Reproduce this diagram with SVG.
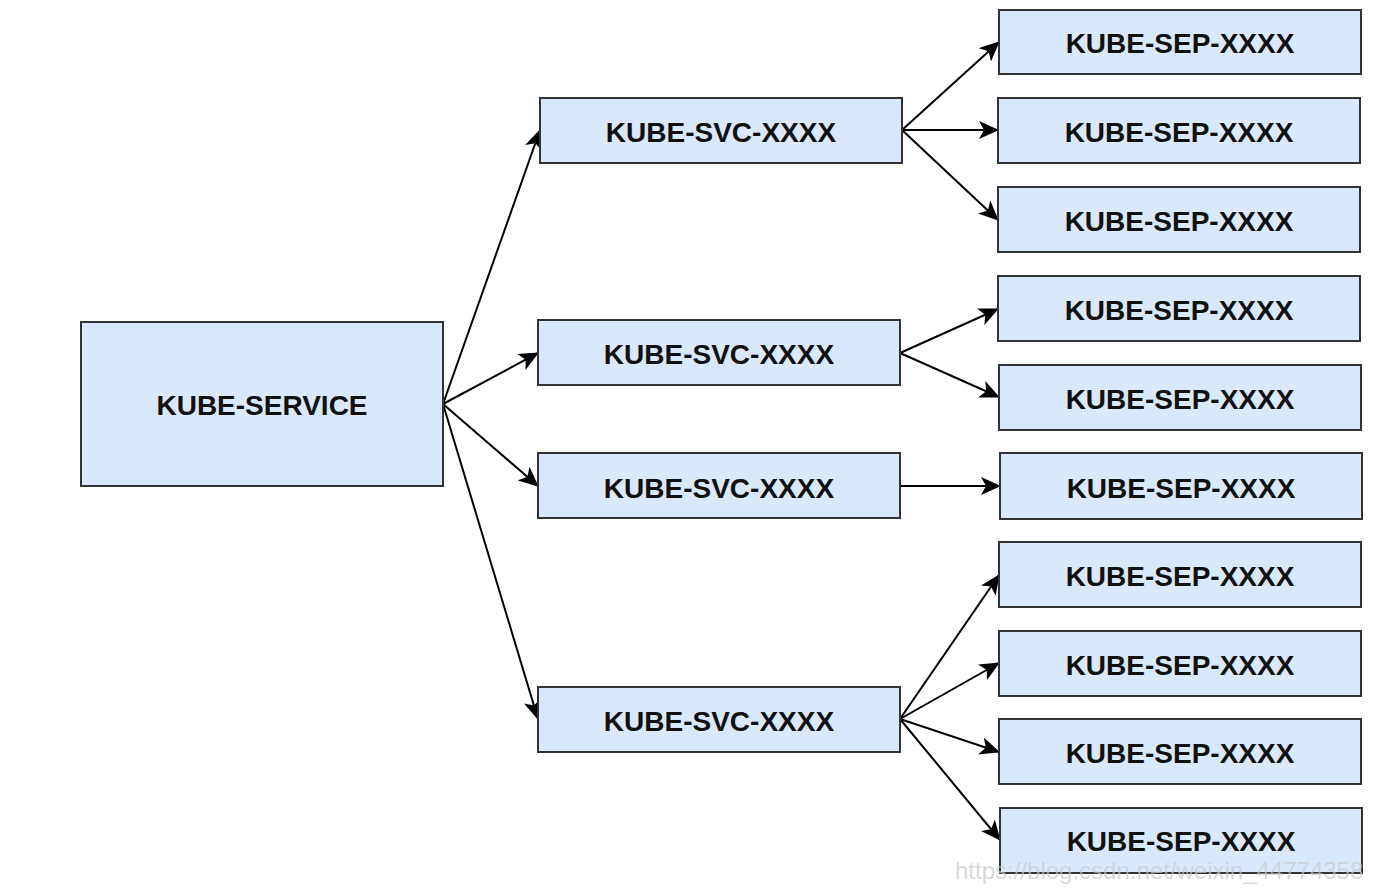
<svg xmlns="http://www.w3.org/2000/svg" width="1396" height="888" viewBox="0 0 1396 888">
<style>
.box{fill:#dae8fc;stroke:#333333;stroke-width:2}
.lbl{font-family:"Liberation Sans",Arial,sans-serif;font-weight:bold;font-size:28px;fill:#111111;text-anchor:middle;dominant-baseline:central}
.edge{fill:none;stroke:#000000;stroke-width:2;marker-end:url(#arr)}
.wm{font-family:"Liberation Sans",Arial,sans-serif;font-size:24px;fill:#c8c8c8;fill-opacity:0.7}
</style>
<defs>
<marker id="arr" markerUnits="userSpaceOnUse" markerWidth="20" markerHeight="18" viewBox="0 0 20 18" refX="19" refY="9" orient="auto">
<path d="M0,0 L20,9 L0,18 L5,9 Z" fill="#000000"/>
</marker>
</defs>
<rect width="1396" height="888" fill="#ffffff"/>
<g id="connectors">
<line class="edge" x1="443" y1="404" x2="540" y2="130"/>
<line class="edge" x1="443" y1="404" x2="538" y2="353"/>
<line class="edge" x1="443" y1="404" x2="538" y2="486"/>
<line class="edge" x1="443" y1="404" x2="538" y2="719"/>
<line class="edge" x1="902" y1="130" x2="999" y2="42"/>
<line class="edge" x1="902" y1="130" x2="998" y2="130"/>
<line class="edge" x1="902" y1="130" x2="998" y2="220"/>
<line class="edge" x1="900" y1="353" x2="998" y2="309"/>
<line class="edge" x1="900" y1="353" x2="999" y2="397"/>
<line class="edge" x1="900" y1="486" x2="1000" y2="486"/>
<line class="edge" x1="900" y1="719" x2="999" y2="575"/>
<line class="edge" x1="900" y1="719" x2="999" y2="663"/>
<line class="edge" x1="900" y1="719" x2="999" y2="752"/>
<line class="edge" x1="900" y1="719" x2="1000" y2="840"/>
</g>
<g id="kube-service"><rect class="box" x="81" y="322" width="362" height="164"/><text class="lbl" x="262" y="405">KUBE-SERVICE</text></g>
<g id="svc1"><rect class="box" x="540" y="98" width="362" height="65"/><text class="lbl" x="721" y="132">KUBE-SVC-XXXX</text></g>
<g id="svc2"><rect class="box" x="538" y="320" width="362" height="65"/><text class="lbl" x="719" y="354">KUBE-SVC-XXXX</text></g>
<g id="svc3"><rect class="box" x="538" y="453" width="362" height="65"/><text class="lbl" x="719" y="488">KUBE-SVC-XXXX</text></g>
<g id="svc4"><rect class="box" x="538" y="687" width="362" height="65"/><text class="lbl" x="719" y="721">KUBE-SVC-XXXX</text></g>
<g id="sep1"><rect class="box" x="999" y="10" width="362" height="64"/><text class="lbl" x="1180" y="43">KUBE-SEP-XXXX</text></g>
<g id="sep2"><rect class="box" x="998" y="98" width="362" height="65"/><text class="lbl" x="1179" y="132">KUBE-SEP-XXXX</text></g>
<g id="sep3"><rect class="box" x="998" y="187" width="362" height="65"/><text class="lbl" x="1179" y="221">KUBE-SEP-XXXX</text></g>
<g id="sep4"><rect class="box" x="998" y="276" width="362" height="65"/><text class="lbl" x="1179" y="310">KUBE-SEP-XXXX</text></g>
<g id="sep5"><rect class="box" x="999" y="365" width="362" height="65"/><text class="lbl" x="1180" y="399">KUBE-SEP-XXXX</text></g>
<g id="sep6"><rect class="box" x="1000" y="453" width="362" height="66"/><text class="lbl" x="1181" y="488">KUBE-SEP-XXXX</text></g>
<g id="sep7"><rect class="box" x="999" y="542" width="362" height="65"/><text class="lbl" x="1180" y="576">KUBE-SEP-XXXX</text></g>
<g id="sep8"><rect class="box" x="999" y="631" width="362" height="65"/><text class="lbl" x="1180" y="665">KUBE-SEP-XXXX</text></g>
<g id="sep9"><rect class="box" x="999" y="719" width="362" height="65"/><text class="lbl" x="1180" y="753">KUBE-SEP-XXXX</text></g>
<g id="sep10"><rect class="box" x="1000" y="808" width="362" height="65"/><text class="lbl" x="1181" y="841">KUBE-SEP-XXXX</text></g>
<text class="wm" x="955" y="879">https://blog.csdn.net/weixin_44774358</text>
</svg>
